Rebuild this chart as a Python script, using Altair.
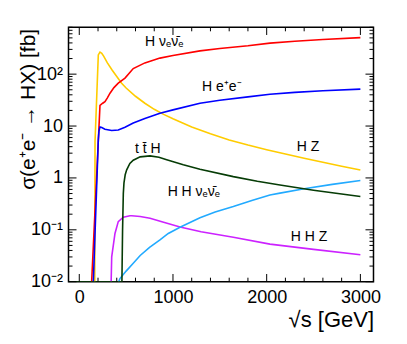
import altair as alt
import pandas as pd

# ---------------- data ----------------
# e+e- -> HZ
hz_x = [165, 168, 203, 221, 240, 260, 300, 350, 400, 452, 500, 600, 700, 800, 900, 1000,
        1200, 1400, 1600, 1800, 2000, 2200, 2400, 2600, 2800, 3000]
hz_y = [0.005, 5, 235, 265, 252, 222, 165, 120, 90, 67, 54, 37.5, 27.5, 21, 16.8, 13.8,
        9.6, 7.1, 5.4, 4.3, 3.5, 2.9, 2.4, 2.0, 1.68, 1.42]

# e+e- -> H nu nubar
hnn_x = [128, 132, 221, 250, 274, 300, 328, 370, 416, 488, 576, 700, 861, 1000, 1288,
         1500, 1800, 2035, 2300, 2600, 3000]
hnn_y = [0.007, 0.01, 25, 27.5, 29.6, 35, 43, 55, 67, 84, 128, 165, 204, 228, 281,
         312, 352, 396, 430, 465, 505]

# e+e- -> H e+ e-
hee_x = [146, 150, 203, 210, 221, 240, 274, 346, 416, 488, 576, 700, 861, 1000, 1288,
         1500, 1800, 2035, 2300, 2600, 3000]
hee_y = [0.006, 0.01, 5.4, 8, 9.6, 9.4, 8.7, 8.2, 8.4, 9.5, 11.4, 14, 17.7, 20.5, 27.6,
         31.5, 36.5, 41, 44.5, 48, 51.5]

# e+e- -> t tbar H
tth_x = [-115, 455, 462, 470, 477, 490, 506, 540, 576, 650, 755, 850, 933, 1110, 1288,
         1644, 1900, 2142, 2500, 3000]
tth_y = [0.01, 0.01, 0.1, 0.5, 0.8, 1.15, 1.43, 1.9, 2.2, 2.55, 2.66, 2.5, 2.25, 1.8, 1.47,
         1.06, 0.86, 0.73, 0.58, 0.44]

# e+e- -> HHZ
hhz_x = [337, 340, 346, 381, 416, 470, 541, 560, 650, 755, 900, 1075, 1300, 1644, 2035,
         2500, 3000]
hhz_y = [0.005, 0.01, 0.03, 0.085, 0.144, 0.175, 0.186, 0.186, 0.18, 0.167, 0.14, 0.113,
         0.092, 0.072, 0.053, 0.042, 0.033]

# e+e- -> HH nu nubar
hhnn_x = [405, 434, 500, 576, 650, 750, 861, 950, 1075, 1288, 1450, 1644, 1850, 2035,
          2142, 2400, 2700, 3000]
hhnn_y = [0.0085, 0.0115, 0.016, 0.0226, 0.032, 0.046, 0.064, 0.085, 0.112, 0.17,
          0.22, 0.28, 0.37, 0.47, 0.51, 0.62, 0.75, 0.89]

# curve labels
label_text = ["H \u03bd\u2091\u03bd\u0304\u2091", "H e\u207ae\u207b", "H Z", "t t\u0304 H",
              "H H \u03bd\u2091\u03bd\u0304\u2091", "H H Z"]
label_x = [701, 1310, 2320, 594, 943, 2256]
label_y = [425, 57.7, 3.87, 3.55, 0.53, 0.0721]

# axis ticks / labels
x_label_values = [0, 1000, 2000, 3000]
x_minor_values = [200, 400, 600, 800, 1200, 1400, 1600, 1800, 2200, 2400, 2600, 2800]
y_label_values = [0.01, 0.1, 1, 10, 100]
y_label_texts = ["10\u207b\u00b2", "10\u207b\u00b9", "1", "10", "10\u00b2"]
y_minor_values = [m * d for d in [0.01, 0.1, 1, 10, 100] for m in range(2, 10) if m * d <= 800]

# ---------------- chart ----------------
W, H = 305, 254.4
FONT = "Liberation Sans"

xscale = alt.Scale(domain=[-115, 3140], nice=False, zero=False)
yscale = alt.Scale(type="log", domain=[0.01, 800], nice=False)

expr = ""
for v, t in zip(y_label_values[:-1], y_label_texts[:-1]):
    expr += f"datum.value < {v * 3} ? '{t}' : "
expr += f"'{y_label_texts[-1]}'"

xaxis = alt.Axis(values=x_label_values, format="d", ticks=False, tickSize=0, domain=False,
                 grid=False, labelFontSize=18, labelPadding=7, labelFlush=False,
                 title="\u221as [GeV]", titleFontSize=22, titleFontWeight="normal",
                 titleX=W, titleY=45, titleAlign="right", titleBaseline="alphabetic")
yaxis = alt.Axis(values=y_label_values, labelExpr=expr, ticks=False, tickSize=0, domain=False,
                 grid=False, labelFontSize=18, labelPadding=6,
                 title="\u03c3(e\u207ae\u207b \u2192 HX) [fb]", titleFontSize=21,
                 titleFontWeight="normal", titleX=-34, titleY=1, titleAlign="right",
                 titleAngle=-90, titleBaseline="alphabetic")


def curve(xs, ys, color):
    df = pd.DataFrame({"x": xs, "y": ys})
    return alt.Chart(df).mark_line(color=color, strokeWidth=1.6, clip=True).encode(
        x=alt.X("x:Q", scale=xscale, axis=xaxis),
        y=alt.Y("y:Q", scale=yscale, axis=yaxis),
    )


def xticks(vals, length, top):
    df = pd.DataFrame({"x": vals})
    y0, y1 = (0, length) if top else (H, H - length)
    return alt.Chart(df).mark_rule(color="black", strokeWidth=1).encode(
        x=alt.X("x:Q", scale=xscale), y=alt.value(y0), y2=alt.value(y1))


def yticks(vals, length, right):
    df = pd.DataFrame({"y": vals})
    x0, x1 = (W, W - length) if right else (0, length)
    return alt.Chart(df).mark_rule(color="black", strokeWidth=1).encode(
        y=alt.Y("y:Q", scale=yscale), x=alt.value(x0), x2=alt.value(x1))


lines = [
    curve(hz_x, hz_y, "#ffcc00"),
    curve(hnn_x, hnn_y, "#ff0000"),
    curve(hee_x, hee_y, "#0000ff"),
    curve(hhz_x, hhz_y, "#cc22ff"),
    curve(hhnn_x, hhnn_y, "#22aaff"),
    curve(tth_x, tth_y, "#063c06"),
]

labels_df = pd.DataFrame({"x": label_x, "y": label_y, "label": label_text})
labels = alt.Chart(labels_df).mark_text(align="left", baseline="middle", font=FONT,
                                        fontSize=14, color="black").encode(
    x=alt.X("x:Q", scale=xscale), y=alt.Y("y:Q", scale=yscale), text="label:N")

ticks = [
    xticks(x_label_values, 7.7, False), xticks(x_minor_values, 4, False),
    xticks(x_label_values, 7.7, True), xticks(x_minor_values, 4, True),
    yticks(y_label_values, 8, False), yticks(y_minor_values, 4, False),
    yticks(y_label_values, 8, True), yticks(y_minor_values, 4, True),
]

chart = alt.layer(*lines, labels, *ticks).properties(
    width=W, height=H,
    autosize=alt.AutoSizeParams(type="none"),
    padding={"left": 60.5, "top": 19.3, "right": 10, "bottom": 52},
).configure_view(stroke="black", strokeWidth=1.5).configure_axis(
    labelFont=FONT, titleFont=FONT, labelColor="black", titleColor="black")

chart.save("out.html", embed_options={"renderer": "svg", "actions": False})
